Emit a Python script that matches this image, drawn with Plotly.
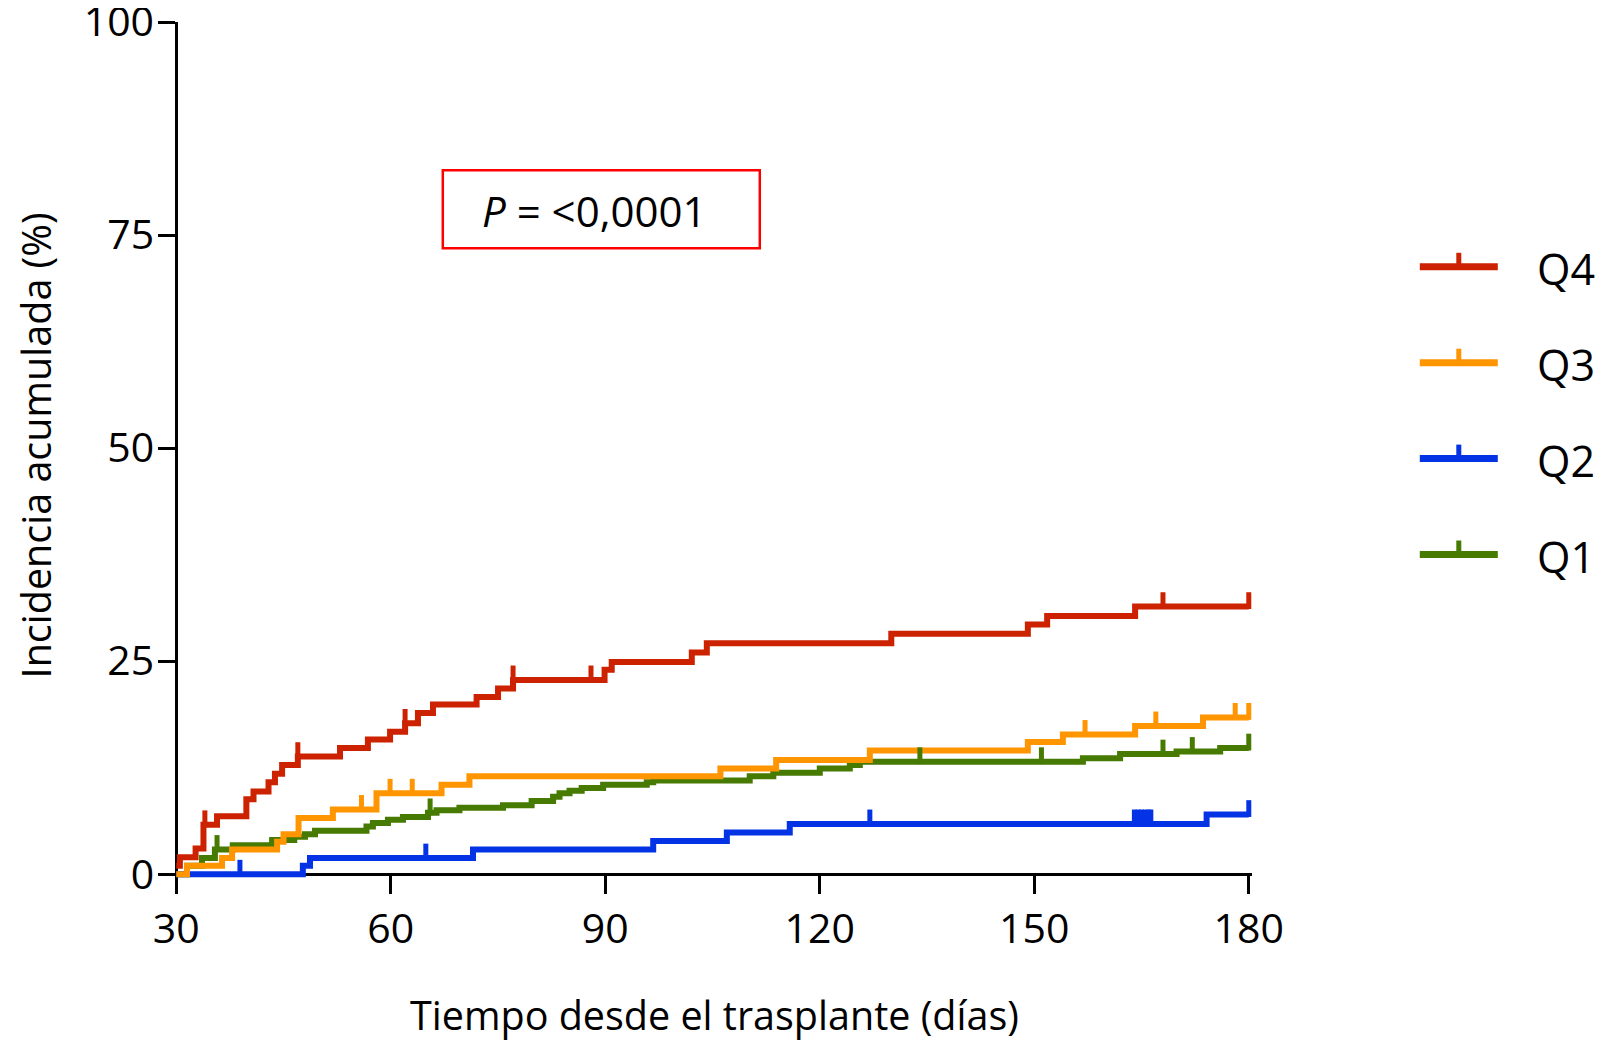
import plotly.graph_objects as go

# ---------------- data ----------------
q4_t = [30, 30.5, 32.7, 33.8, 35.7, 39.8, 40.8, 42.9, 43.8, 44.8, 47.0, 52.9, 56.8, 59.9, 62.0, 63.8, 65.9,
        72.0, 75.0, 77.1, 89.9, 90.9, 102.1, 104.2, 130.0, 149.1, 151.8, 164.1, 180]
q4_v = [1.0, 2.0, 3.0, 5.8, 6.8, 8.8, 9.7, 10.8, 11.8, 12.8, 13.8, 14.8, 15.8, 16.7, 17.7, 18.9, 19.9,
        20.8, 21.8, 22.8, 24.0, 24.9, 26.0, 27.1, 28.2, 29.3, 30.3, 31.4, 31.4]
q4_cens = [34.0, 47.0, 62.0, 77.1, 88.0, 168.0, 180]

q3_t = [30, 31.5, 36.4, 37.8, 44.1, 45.0, 47.1, 51.9, 58.0, 67.1, 71.0, 106.1, 113.9, 127.0, 149.1,
        154.0, 164.1, 173.6, 180]
q3_v = [0.0, 1.0, 1.9, 2.9, 3.8, 4.7, 6.6, 7.6, 9.5, 10.5, 11.5, 12.4, 13.4, 14.5, 15.5,
        16.4, 17.4, 18.4, 18.4]
q3_cens = [55.9, 59.9, 63.0, 157.1, 167.0, 178.1, 180]

q2_t = [30, 47.7, 48.7, 71.5, 96.7, 107.0, 115.8, 174.1, 180]
q2_v = [0.0, 1.0, 1.9, 2.9, 3.9, 4.9, 5.9, 7.0, 7.0]
q2_cens = [38.9, 64.9, 127.0, 164.0, 164.5, 165.0, 165.5, 166.0, 166.3, 180]

q1_t = [30, 31.5, 33.6, 35.4, 37.9, 43.4, 46.5, 48.0, 49.4, 56.6, 57.5, 59.6, 61.7, 65.2, 66.4, 69.6,
        75.7, 79.7, 82.7, 83.6, 85.0, 86.7, 89.7, 95.8, 96.7, 110.2, 113.5, 120.0, 124.2, 125.6,
        156.8, 162.0, 169.9, 176.0, 180]
q1_v = [0.0, 1.0, 1.9, 2.9, 3.4, 4.0, 4.4, 4.7, 5.1, 5.6, 6.0, 6.4, 6.7, 7.2, 7.5, 7.8,
        8.1, 8.6, 9.1, 9.5, 9.8, 10.1, 10.5, 10.8, 11.0, 11.5, 11.9, 12.4, 12.8, 13.2,
        13.6, 14.1, 14.4, 14.8, 14.8]
q1_cens = [35.7, 65.5, 134.0, 151.0, 168.0, 172.1, 180]

x_ticks = [30, 60, 90, 120, 150, 180]
y_ticks = [0, 25, 50, 75, 100]
names = ["Q4", "Q3", "Q2", "Q1"]
colors = {"Q4": "#CC2200", "Q3": "#FF9500", "Q2": "#0433E6", "Q1": "#467A00"}

series = {
    "Q4": (q4_t, q4_v, q4_cens),
    "Q3": (q3_t, q3_v, q3_cens),
    "Q2": (q2_t, q2_v, q2_cens),
    "Q1": (q1_t, q1_v, q1_cens),
}

# ---------------- layout geometry ----------------
OFF = 8  # page body margin
W, H = 1609 - OFF, 1042 - OFF
X_RANGE = [29.4, 180.45]
Y_RANGE = [-0.8, 100]
ML, MR, MT, MB = 172.2 - OFF, 356.8, 21.5 - OFF, 160.7
PW = W - ML - MR
PH = H - MT - MB
TICK_SHIFT = 0.7  # censor ticks sit above the line (in % units)
FONT = "Open Sans"


def px_x(px):
    # page pixel -> paper fraction
    return (px - OFF - ML) / PW


def px_y(py):
    return (H - MB - (py - OFF)) / PH


def step_value(ts, vs, t):
    val = vs[0]
    for ti, vi in zip(ts, vs):
        if ti <= t + 1e-9:
            val = vi
    return val


fig = go.Figure()

draw_order = ["Q1", "Q2", "Q3", "Q4"]
for nm in draw_order:
    ts, vs, cens = series[nm]
    fig.add_trace(go.Scatter(
        x=ts, y=vs, mode="lines", line=dict(color=colors[nm], width=6, shape="hv"),
        showlegend=False, hoverinfo="skip", xaxis="x", yaxis="y"))

for nm in draw_order:
    ts, vs, cens = series[nm]
    cy = [step_value(ts, vs, c) for c in cens]
    fig.add_trace(go.Scatter(
        x=cens, y=cy, mode="markers",
        marker=dict(symbol="line-ns", size=12, line=dict(color=colors[nm], width=5)),
        showlegend=False, hoverinfo="skip", xaxis="x", yaxis="y2", cliponaxis=False))

# ---------------- legend (drawn by hand) ----------------
legend_y = {"Q4": 266.5, "Q3": 362.5, "Q2": 458.5, "Q1": 554.5}
shapes = []
annotations = []
for nm in names:
    ly = legend_y[nm]
    shapes.append(dict(type="line", xref="paper", yref="paper",
                       x0=px_x(1420), x1=px_x(1498), y0=px_y(ly), y1=px_y(ly),
                       line=dict(color=colors[nm], width=7)))
    shapes.append(dict(type="line", xref="paper", yref="paper",
                       x0=px_x(1459), x1=px_x(1459), y0=px_y(ly), y1=px_y(ly - 14),
                       line=dict(color=colors[nm], width=5)))
    annotations.append(dict(text=nm, xref="paper", yref="paper", x=px_x(1535), y=px_y(ly + 2),
                            xanchor="left", yanchor="middle", showarrow=False,
                            font=dict(family=FONT, size=43, color="black")))

# P-value box
shapes.append(dict(type="rect", xref="paper", yref="paper",
                   x0=px_x(443), x1=px_x(760), y0=px_y(248), y1=px_y(170),
                   line=dict(color="#FF0000", width=2.5), fillcolor="rgba(0,0,0,0)"))
annotations.append(dict(text="<i>P</i> = &lt;0,0001", xref="paper", yref="paper",
                        x=px_x(595), y=px_y(210), xanchor="center", yanchor="middle",
                        showarrow=False, font=dict(family=FONT, size=42, color="black")))

# axis titles
annotations.append(dict(text="Tiempo desde el trasplante (días)", xref="paper", yref="paper",
                        x=px_x(714.5), y=px_y(1015), xanchor="center", yanchor="middle",
                        showarrow=False, font=dict(family=FONT, size=39.5, color="black")))
annotations.append(dict(text="Incidencia acumulada (%)", xref="paper", yref="paper",
                        x=px_x(36), y=px_y(445.5), xanchor="center", yanchor="middle",
                        textangle=-90, showarrow=False,
                        font=dict(family=FONT, size=39.5, color="black")))

x_pos = (0 - Y_RANGE[0]) / (Y_RANGE[1] - Y_RANGE[0])
y_pos = (30 - X_RANGE[0]) / (X_RANGE[1] - X_RANGE[0])

fig.update_layout(
    width=W, height=H,
    margin=dict(l=ML, r=MR, t=MT, b=MB, pad=0, autoexpand=False),
    paper_bgcolor="white", plot_bgcolor="white",
    showlegend=False,
    font=dict(family=FONT, size=41, color="black"),
    xaxis=dict(range=X_RANGE, tickvals=x_ticks, ticktext=[str(v) for v in x_ticks],
               showline=True, linecolor="black", linewidth=3,
               ticks="outside", ticklen=18, tickwidth=3, tickcolor="black",
               showgrid=False, zeroline=False, anchor="free", position=x_pos,
               layer="below traces", tickfont=dict(family=FONT, size=41, color="black"),
               ticklabeloverflow="allow", fixedrange=True),
    yaxis=dict(range=Y_RANGE, tickvals=y_ticks, ticktext=[str(v) for v in y_ticks],
               showline=True, linecolor="black", linewidth=3,
               ticks="outside", ticklen=17, tickwidth=3, tickcolor="black",
               showgrid=False, zeroline=False, anchor="free", position=y_pos,
               layer="below traces", tickfont=dict(family=FONT, size=41, color="black"),
               ticklabelstandoff=-4, ticklabeloverflow="allow", fixedrange=True),
    yaxis2=dict(range=[Y_RANGE[0] - TICK_SHIFT, Y_RANGE[1] - TICK_SHIFT], overlaying="y",
                visible=False, showgrid=False, zeroline=False, fixedrange=True),
    shapes=shapes,
    annotations=annotations,
)

fig.write_html("out.html")
